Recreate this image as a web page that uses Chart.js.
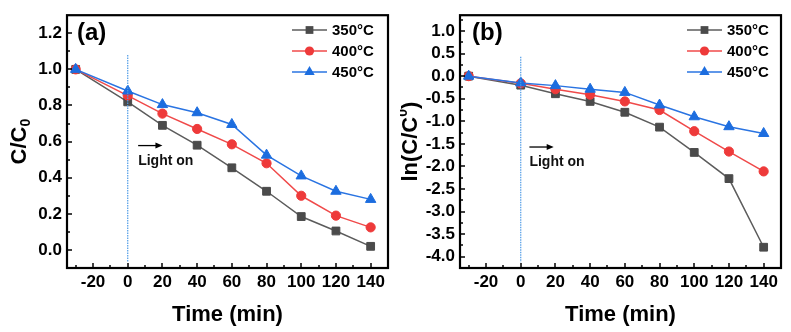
<!DOCTYPE html>
<html><head><meta charset="utf-8">
<script src="https://cdn.jsdelivr.net/npm/chart.js@4/dist/chart.umd.min.js"></script>
<style>
html,body{margin:0;padding:0;background:#fff;}
#wrap{position:relative;width:791px;height:332px;overflow:hidden;}
#ca{position:absolute;left:0;top:0;}
#cb{position:absolute;left:400px;top:0;}
</style></head><body>
<div id="wrap"><canvas id="ca" width="400" height="332"></canvas><canvas id="cb" width="391" height="332"></canvas></div>
<script>
// ---- data ----
const times = [-30, 0, 20, 40, 60, 80, 100, 120, 140];
const seriesLabels = ['350\u00B0C', '400\u00B0C', '450\u00B0C'];
const ratio350 = [1.0, 0.82, 0.69, 0.58, 0.455, 0.325, 0.185, 0.105, 0.02];
const ratio400 = [1.0, 0.855, 0.755, 0.67, 0.585, 0.48, 0.30, 0.19, 0.125];
const ratio450 = [1.0, 0.88, 0.805, 0.76, 0.695, 0.525, 0.41, 0.325, 0.28];
const ln350 = [0, -0.20, -0.39, -0.56, -0.80, -1.13, -1.69, -2.27, -3.79];
const ln400 = [0, -0.16, -0.29, -0.41, -0.56, -0.75, -1.22, -1.67, -2.11];
const ln450 = [0, -0.15, -0.21, -0.29, -0.36, -0.64, -0.90, -1.12, -1.27];
const xTicks = [-20, 0, 20, 40, 60, 80, 100, 120, 140];
const xMinorTicks = [-30, -10, 10, 30, 50, 70, 90, 110, 130, 150];
const yTicksA = [0, 0.2, 0.4, 0.6, 0.8, 1.0, 1.2];
const yMinorA = [0.1, 0.3, 0.5, 0.7, 0.9, 1.1];
const yTicksB = [1.0, 0.5, 0, -0.5, -1.0, -1.5, -2.0, -2.5, -3.0, -3.5, -4.0];
const yMinorB = [1.25, 0.75, 0.25, -0.25, -0.75, -1.25, -1.75, -2.25, -2.75, -3.25, -3.75];
const lightOnTime = 0;
const lightLineA = [1.08, -0.065];
const lightLineB = [0.43, -4.12];

// ---- styles ----
Chart.defaults.font.family = "'Liberation Sans', Arial, sans-serif";
Chart.defaults.color = '#000';
const FONT = "'Liberation Sans', Arial, sans-serif";
const markColors = ['#4b4b4b', '#ee3a3a', '#1c6ddf'];
const lineColors = ['#5c5c5c', '#f04a4a', '#2a74e2'];
const pointStyles = ['rect', 'circle', 'triangle'];
const pointRadii = [5.5, 4.6, 6];

function makeDatasets(list, lineRange) {
  const ds = list.map((vals, i) => ({
    label: seriesLabels[i],
    data: times.map((t, j) => ({x: t, y: vals[j]})),
    borderColor: lineColors[i], backgroundColor: markColors[i],
    pointBackgroundColor: markColors[i], pointBorderColor: markColors[i],
    pointStyle: pointStyles[i], pointRadius: pointRadii[i], pointBorderWidth: 1,
    borderWidth: 1.5, tension: 0, order: 3 - i
  }));
  ds.push({
    label: 'light on', data: [{x: lightOnTime, y: lineRange[0]}, {x: lightOnTime, y: lineRange[1]}],
    borderColor: '#4f9be6', borderWidth: 1.2, borderDash: [1.5, 1], pointRadius: 0, order: -1
  });
  return ds;
}

function drawMarker(ctx, style, r, cx, cy, color) {
  ctx.fillStyle = color;
  ctx.beginPath();
  if (style === 'rect') { const s = r * Math.SQRT1_2; ctx.rect(cx - s, cy - s, 2 * s, 2 * s); }
  else if (style === 'circle') { ctx.arc(cx, cy, r, 0, Math.PI * 2); }
  else { ctx.moveTo(cx, cy - r); ctx.lineTo(cx + r * 0.866, cy + r * 0.5); ctx.lineTo(cx - r * 0.866, cy + r * 0.5); ctx.closePath(); }
  ctx.fill();
}

const decorPlugin = {
  id: 'decor',
  afterDraw(chart, args, o) {
    const {ctx, chartArea: ca, scales: {x, y}} = chart;
    ctx.save();
    ctx.strokeStyle = '#000'; ctx.lineWidth = 1.5;
    const tick = (px, py, dx, dy) => { ctx.beginPath(); ctx.moveTo(px, py); ctx.lineTo(px + dx, py + dy); ctx.stroke(); };
    o.xMajor.forEach(v => tick(Math.round(x.getPixelForValue(v)), ca.bottom, 0, -5));
    o.xMinor.forEach(v => tick(Math.round(x.getPixelForValue(v)), ca.bottom, 0, -3));
    o.yMajor.forEach(v => tick(ca.left, Math.round(y.getPixelForValue(v)), 5, 0));
    o.yMinor.forEach(v => tick(ca.left, Math.round(y.getPixelForValue(v)), 3, 0));
    ctx.lineWidth = 2.2;
    ctx.strokeRect(ca.left, ca.top, ca.right - ca.left, ca.bottom - ca.top);

    // panel label
    ctx.fillStyle = '#000';
    ctx.font = 'bold 24px ' + FONT; ctx.textBaseline = 'middle'; ctx.textAlign = 'left';
    ctx.fillText(o.panel, o.panelX, o.panelY);

    // light on arrow + text
    const ax1 = x.getPixelForValue(o.arrow[0]), ax2 = x.getPixelForValue(o.arrow[1]), ay = y.getPixelForValue(o.arrow[2]);
    ctx.strokeStyle = '#000'; ctx.lineWidth = 1.3;
    ctx.beginPath(); ctx.moveTo(ax1, ay); ctx.lineTo(ax2 - 5, ay); ctx.stroke();
    ctx.beginPath(); ctx.moveTo(ax2, ay); ctx.lineTo(ax2 - 7, ay - 3); ctx.lineTo(ax2 - 7, ay + 3); ctx.closePath(); ctx.fill();
    ctx.font = 'bold 14px ' + FONT;
    ctx.fillStyle = '#111';
    ctx.fillText(o.lightText, x.getPixelForValue(o.textPos[0]), y.getPixelForValue(o.textPos[1]));

    // legend
    chart.data.datasets.slice(0, 3).forEach((d, i) => {
      const ly = o.legendY[i];
      ctx.strokeStyle = lineColors[i]; ctx.lineWidth = 1.5;
      ctx.beginPath(); ctx.moveTo(o.legendX, ly); ctx.lineTo(o.legendX + 35, ly); ctx.stroke();
      drawMarker(ctx, pointStyles[i], pointRadii[i], o.legendX + 17.5, ly, markColors[i]);
      ctx.fillStyle = '#000'; ctx.font = 'bold 15px ' + FONT; ctx.textBaseline = 'middle'; ctx.textAlign = 'left';
      ctx.fillText(d.label, o.legendX + 40, ly + 1);
    });

    // y axis title with sub/superscript
    const t = o.yTitle;
    ctx.save();
    ctx.translate(o.yTitleX, (ca.top + ca.bottom) / 2);
    ctx.rotate(-Math.PI / 2);
    ctx.fillStyle = '#000';
    ctx.textBaseline = 'middle'; ctx.textAlign = 'left';
    const big = 'bold 22px ' + FONT, small = 'bold 14px ' + FONT;
    ctx.font = big; const w1 = ctx.measureText(t.main).width, w3 = ctx.measureText(t.tail).width;
    ctx.font = small; const w2 = ctx.measureText(t.script).width;
    let sx = -(w1 + w2 + w3) / 2;
    ctx.font = big; ctx.fillText(t.main, sx, 0); sx += w1;
    ctx.font = small; ctx.fillText(t.script, sx, t.sup ? -8 : 6); sx += w2;
    ctx.font = big; ctx.fillText(t.tail, sx, 0);
    ctx.restore();
    ctx.restore();
  }
};

function makeChart(id, list, lineRange, yMin, yMax, yTicks, yMinor, yWidth, padRight, deco) {
  return new Chart(document.getElementById(id), {
    type: 'line',
    data: {datasets: makeDatasets(list, lineRange)},
    options: {
      responsive: false, animation: false, events: [],
      layout: {padding: {left: 0, top: 8, right: padRight, bottom: 0}},
      plugins: {legend: {display: false}, tooltip: {enabled: false}, decor: Object.assign({
        xMajor: xTicks, xMinor: xMinorTicks, yMajor: yTicks, yMinor: yMinor
      }, deco)},
      scales: {
        x: {
          type: 'linear', min: -35, max: 150,
          grid: {display: false, drawTicks: false}, border: {display: false},
          afterBuildTicks: s => { s.ticks = xTicks.map(v => ({value: v})); },
          afterFit: s => { s.height = 64; },
          ticks: {font: {size: 17, weight: 'bold'}, color: '#000', padding: 4, maxRotation: 0, autoSkip: false,
                  callback: v => String(v)},
          title: {display: true, text: 'Time (min)', font: {size: 22, weight: 'bold'}, color: '#000', padding: {top: 0, bottom: 4}}
        },
        y: {
          type: 'linear', min: yMin, max: yMax,
          grid: {display: false, drawTicks: false}, border: {display: false},
          afterBuildTicks: s => { s.ticks = yTicks.map(v => ({value: v})); },
          afterFit: s => { s.width = yWidth; },
          ticks: {font: {size: 17, weight: 'bold'}, color: '#000', padding: 5, autoSkip: false,
                  callback: v => Number(v).toFixed(1)}
        }
      }
    },
    plugins: [decorPlugin]
  });
}

makeChart('ca', [ratio350, ratio400, ratio450], lightLineA, -0.1, 1.3, yTicksA, yMinorA, 67, 12, {
  panel: '(a)', panelX: 77, panelY: 33,
  arrow: [6, 20, 0.578], lightText: 'Light on', textPos: [6, 0.49],
  legendX: 292, legendY: [30, 51, 72],
  yTitle: {main: 'C/C', script: '0', tail: '', sup: false}, yTitleX: 20
});
makeChart('cb', [ln350, ln400, ln450], lightLineB, -4.25, 1.35, yTicksB, yMinorB, 60, 10, {
  panel: '(b)', panelX: 72, panelY: 33,
  arrow: [5, 19, -1.57], lightText: 'Light on', textPos: [5, -1.91],
  legendX: 287, legendY: [30, 51, 72],
  yTitle: {main: 'ln(C/C', script: '0', tail: ')', sup: true}, yTitleX: 11
});
</script>
</body></html>
